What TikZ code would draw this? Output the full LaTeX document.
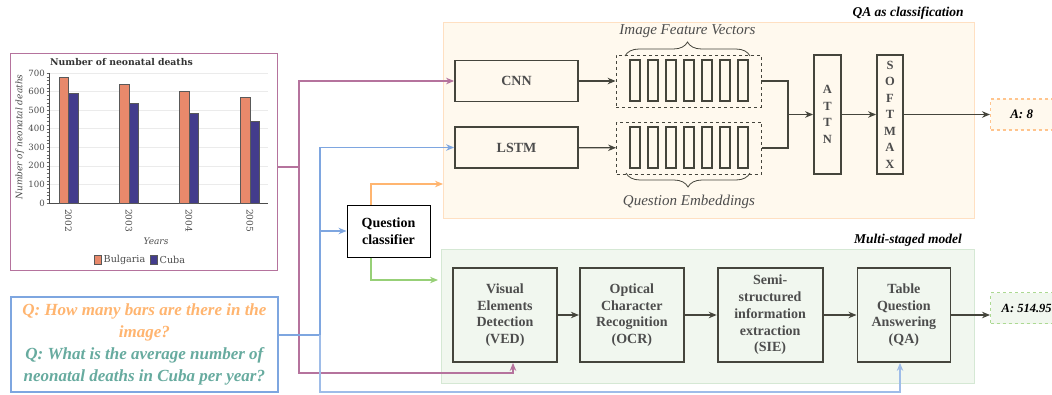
\documentclass[tikz,border=0pt]{standalone}
\usepackage{fontspec}
\setmainfont{Liberation Serif}
\newfontfamily\chartfont{DejaVu Serif}
\usetikzlibrary{arrows.meta, positioning, decorations.pathreplacing, calc}
\definecolor{boxline}{HTML}{45453C}
\definecolor{boxtext}{HTML}{4D4D4D}
\definecolor{qafill}{HTML}{FFF9EE}
\definecolor{qaline}{HTML}{FFE0C2}
\definecolor{msfill}{HTML}{F1F7EF}
\definecolor{msline}{HTML}{D5E8D4}
\definecolor{pinkc}{HTML}{B5739D}
\definecolor{bluec}{HTML}{7EA6E0}
\definecolor{orangec}{HTML}{FFB570}
\definecolor{greenc}{HTML}{97D077}
\definecolor{tealc}{HTML}{67AB9F}
\definecolor{bulgc}{HTML}{E8896B}
\definecolor{cubac}{HTML}{433C8C}
\tikzstyle{arrow}=[-{Stealth[length=8pt,width=6.5pt]}, line width=1.2pt, color=boxline]
\tikzstyle{link}=[-{Stealth[length=8pt,width=6.5pt]}, line width=1.1pt]

\begin{document}
\begin{tikzpicture}[x=1pt, y=-1pt, node distance=21pt,
  panel/.style={rectangle, line width=1.3pt, inner sep=0pt, anchor=north west},
  netbox/.style={rectangle, draw=boxline, line width=1.8pt, text=boxtext,
                 minimum width=123pt, minimum height=41pt, inner sep=0pt,
                 font=\fontsize{14}{16.7}\selectfont\bfseries},
  stagebox/.style={netbox, minimum width=104pt, minimum height=94pt, align=center},
  letterbox/.style={netbox, minimum width=27pt, minimum height=119pt, align=center,
                 font=\fontsize{12.5}{16.5}\selectfont\bfseries},
  vecbox/.style={rectangle, draw=boxline, dashed, line width=0.8pt,
                 minimum width=145pt, minimum height=52pt, inner sep=0pt},
  cell/.style={rectangle, draw=boxline, line width=1.6pt,
                 minimum width=10pt, minimum height=41pt, inner sep=0pt},
  answerbox/.style={rectangle, dashed, line width=1.3pt, minimum width=70pt,
                 minimum height=31pt, inner sep=0pt, anchor=west,
                 font=\fontsize{13}{15}\selectfont\bfseries\itshape},
  paneltitle/.style={font=\fontsize{13.5}{16}\selectfont\bfseries\itshape},
  veclabel/.style={text=boxtext, font=\fontsize{15}{18}\selectfont\itshape},
  bracestyle/.style={decorate, decoration={brace, amplitude=14pt}, line width=0.8pt, color=boxline},
  chartlbl/.style={text=black!70, font=\chartfont\fontsize{9}{11}\selectfont, inner sep=1pt},
  bulgbar/.style={fill=bulgc, draw=black!65, line width=0.5pt},
  cubabar/.style={fill=cubac, draw=black!65, line width=0.5pt}
]
\useasboundingbox (0,0) rectangle (1052,394);

% input chart
\node[panel, draw=pinkc, fill=white, minimum width=267pt, minimum height=217pt] (chart) at (10,53) {};
\node[chartlbl, anchor=west, text=black!80, font=\chartfont\fontsize{9.3}{11}\selectfont\bfseries] (ctitle) at (49,62) {Number of neonatal deaths};
\foreach \v in {100,200,...,700}
  \draw[black!8, line width=0.6pt] (49,{203-\v*0.1857}) -- (268,{203-\v*0.1857});
\foreach \v in {0,20,...,700}
  \draw[black!60, line width=0.4pt] (46.5,{203-\v*0.1857}) -- (49,{203-\v*0.1857});
\foreach \v in {0,100,...,700}
  \node[chartlbl, anchor=east, font=\chartfont\fontsize{8.6}{10}\selectfont] at (46,{203-\v*0.1857}) {\v};
\draw[black!70, line width=0.6pt] (49,73) -- (49,203) -- (268,203);
\foreach \c/\b/\u/\yr in {68.5/675/590/2002, 129/640/536/2003, 189/603/483/2004, 250/572/438/2005} {
  \draw[bulgbar] (\c-9.5,203) rectangle (\c,{203-\b*0.1857});
  \draw[cubabar] (\c,203) rectangle (\c+9.5,{203-\u*0.1857});
  \node[chartlbl, rotate=-90, anchor=west] at (\c,208) {\yr};
}
\node[chartlbl, rotate=90, font=\chartfont\fontsize{9}{11}\selectfont\itshape] (ylab) at (20,137) {Number of neonatal deaths};
\node[chartlbl, font=\chartfont\fontsize{9}{11}\selectfont\itshape] (xlab) at (156,241) {Years};
\draw[bulgbar] (94,255) rectangle (101.5,264.5);
\node[chartlbl, anchor=west, font=\chartfont\fontsize{9.6}{11}\selectfont] (lbulg) at (102.5,260) {Bulgaria};
\draw[cubabar] (150,255) rectangle (157.5,264.5);
\node[chartlbl, anchor=west, font=\chartfont\fontsize{9.6}{11}\selectfont] (lcuba) at (158.5,260) {Cuba};

% questions
\node[panel, draw=bluec, line width=1.8pt, fill=white, minimum width=267pt, minimum height=95pt] (qbox) at (10,296) {};
\node[align=center, font=\fontsize{17}{21.7}\selectfont\bfseries\itshape] (qtext) at (qbox.center)
  {\textcolor{orangec}{Q: How many bars are there in the}\\
   \textcolor{orangec}{image?}\\
   \textcolor{tealc}{Q: What is the average number of}\\
   \textcolor{tealc}{neonatal deaths in Cuba per year?}};

% QA as classification
\node[panel, draw=qaline, fill=qafill, minimum width=531pt, minimum height=196pt] (qap) at (443,22) {};
\node[paneltitle] (qatitle) at (908,13) {QA as classification};
\node[netbox] (cnn) at (516.5,81) {CNN};
\node[netbox] (lstm) at (516.5,147.5) {LSTM};
\node[vecbox] (feat) at (688.5,81) {};
\node[vecbox] (emb) at (689,148) {};
\foreach \i in {0,...,6} {
  \node[cell] (f\i) at (634.7+\i*18,80.5) {};
  \node[cell] (e\i) at (635+\i*18,147.5) {};
}
\draw[bracestyle] (625,56) -- (750,56);
\draw[bracestyle] (750,173) -- (626,173);
\node[veclabel] (featlbl) at (687.5,31) {Image Feature Vectors};
\node[veclabel] (emblbl) at (689,202) {Question Embeddings};
\node[letterbox] (attn) at (827.5,114.5) {A\\T\\T\\N};
\node[letterbox, minimum width=26pt] (soft) at (890,114.5) {S\\O\\F\\T\\M\\A\\X};
\node[answerbox, draw=orangec!80, fill=qafill] (ans1) at (990,114.5) {\hspace*{-8pt}A: 8};
\coordinate (join) at (788,114.5);

\draw[arrow] (cnn) -- (feat);
\draw[arrow] (lstm) -- (emb);
\draw[boxline, line width=1.2pt] (feat.east) -| (join);
\draw[boxline, line width=1.2pt] (emb.east) -| (join);
\draw[arrow] (join) -- (attn);
\draw[arrow] (attn) -- (soft);
\draw[arrow] (soft) -- (ans1);

% Multi-staged model
\node[panel, draw=msline, fill=msfill, minimum width=533pt, minimum height=134pt] (msp) at (441,249) {};
\node[paneltitle] (mstitle) at (908,240) {Multi-staged model};
\node[stagebox] (ved) at (505,315) {Visual\\Elements\\Detection\\(VED)};
\node[stagebox, right=of ved] (ocr) {Optical\\Character\\Recognition\\(OCR)};
\node[stagebox, right=32pt of ocr, minimum width=105pt] (sie) {Semi-\\structured\\information\\extraction\\(SIE)};
\node[stagebox, right=33pt of sie, minimum width=93pt] (tqa) {Table\\Question\\Answering\\(QA)};
\node[answerbox, draw=greenc!80, fill=msfill, anchor=north west, align=left,
      font=\fontsize{12.5}{15}\selectfont\bfseries\itshape] (ans2) at (990,292) {\hspace*{2pt}A: 514.95};

\draw[arrow] (ved) -- (ocr);
\draw[arrow] (ocr) -- (sie);
\draw[arrow] (sie) -- (tqa);
\draw[arrow] (tqa) -- (tqa -| ans2.west);

% question classifier
\node[rectangle, draw=black, line width=1pt, fill=white, minimum width=83pt, minimum height=52pt,
      align=center, font=\fontsize{14}{16.7}\selectfont\bfseries] (qc) at (388.5,231) {Question\\classifier};

% connectors
\coordinate (pj) at (299,167);
\coordinate (pb) at (513,373);
\coordinate (bj) at (320,335);
\coordinate (bb) at (900,392);
\coordinate (oc) at (371,184);
\coordinate (gc) at (371,280);
\draw[link, pinkc] (chart.east |- pj) -- (pj) |- (cnn.west);
\draw[link, pinkc] (pj) |- (pb) -- (pb |- ved.south);
\draw[link, bluec] (qbox.east |- bj) -- (bj) |- (lstm.west);
\draw[link, bluec] (bj) |- (qc.west);
\draw[link, bluec!75] (bj) |- (bb) -- (bb |- tqa.south);
\draw[link, orangec] (oc |- qc.north) |- (qap.west |- oc);
\draw[link, greenc] (gc |- qc.south) |- ($(msp.west |- gc)+(-3,0)$);
\end{tikzpicture}
\end{document}
